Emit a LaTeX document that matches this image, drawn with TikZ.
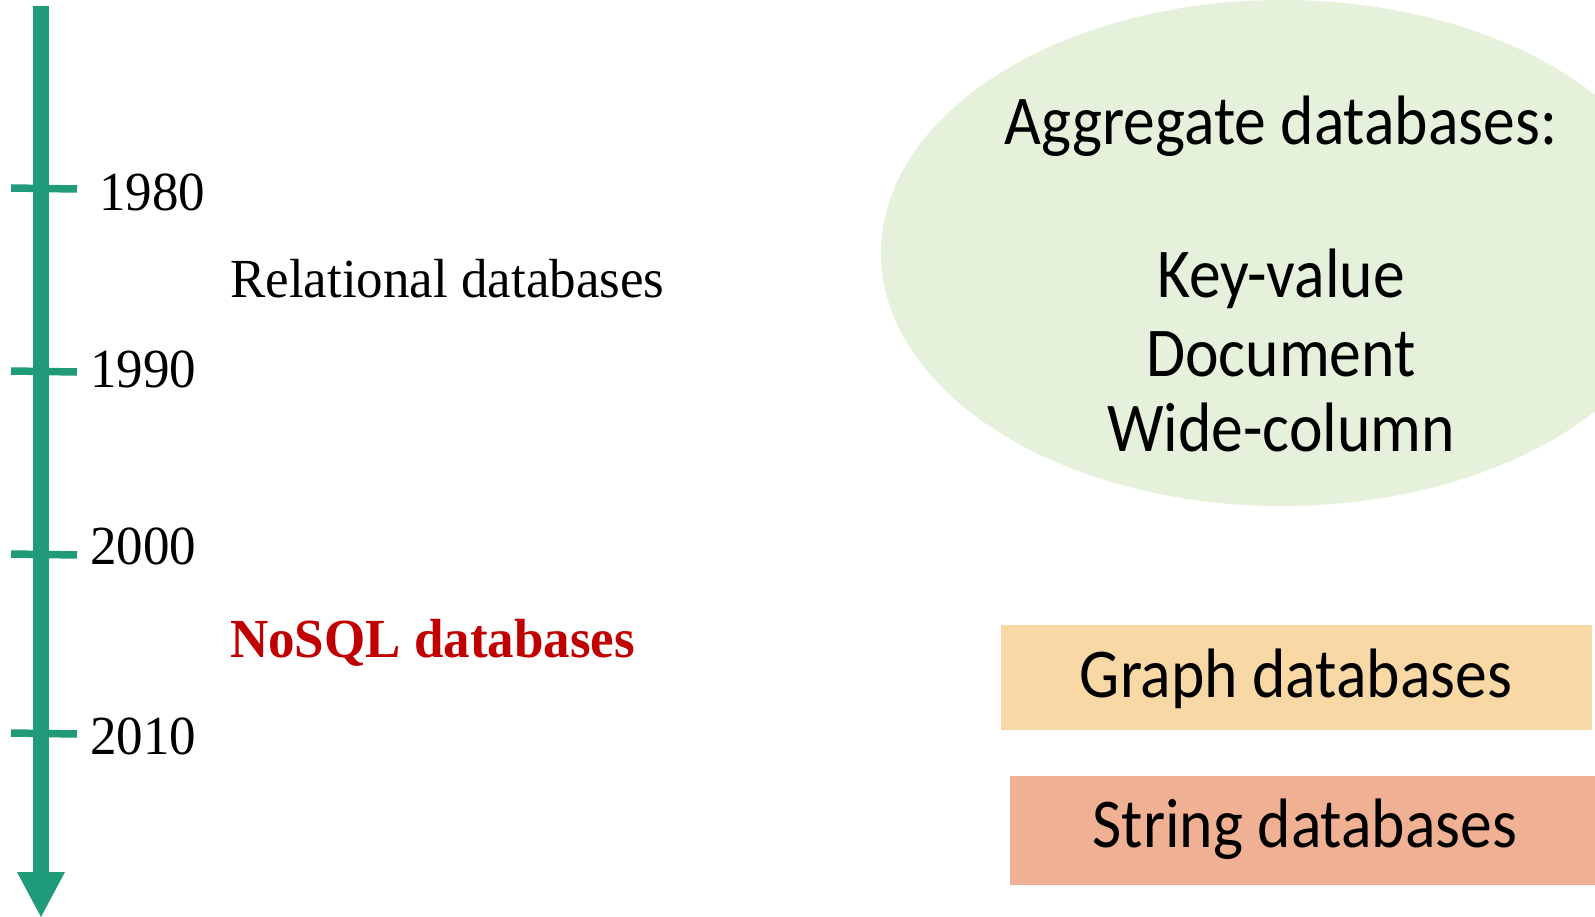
\documentclass[tikz,border=0pt]{standalone}
\usepackage{fontspec}
\usepackage{graphicx}
\setmainfont{Liberation Serif}
\newfontfamily\calibrilike{Carlito}
\definecolor{axisgreen}{HTML}{1F9B79}
\definecolor{nosqlred}{HTML}{C00000}
\definecolor{aggfill}{HTML}{E6F1DB}
\definecolor{graphfill}{HTML}{F8D8A4}
\definecolor{stringfill}{HTML}{F0B094}
% slightly tall lettering
\newcommand{\tallsans}[1]{\scalebox{1}[1.1]{#1}}
\newcommand{\tallserif}[1]{\scalebox{1}[1.04]{#1}}
\begin{document}
\begin{tikzpicture}[x=1pt,y=-1pt,
  yearlbl/.style={anchor=base west,inner sep=0pt,font=\fontsize{53}{60}\selectfont},
  eralbl/.style={anchor=base west,inner sep=0pt,font=\fontsize{53}{60}\selectfont},
  sanslbl/.style={anchor=base,inner sep=0pt,font=\calibrilike\fontsize{63.6}{76}\selectfont},
  tickmark/.style={draw=axisgreen,line width=7.5pt}]
\useasboundingbox (0,0) rectangle (1595,917);
% timeline axis
\draw[axisgreen,line width=16pt] (41,6) -- (41,873);
\fill[axisgreen] (17,872) -- (65,872) -- (41,917) -- cycle;
\foreach \ty in {188,371,554,733}
  \draw[tickmark] (11,\ty) -- (77,\ty+1);
% years
\node[yearlbl] (y1980) at (99,211) {\tallserif{1980}};
\node[yearlbl] (y1990) at (90,387) {\tallserif{1990}};
\node[yearlbl] (y2000) at (90,564) {\tallserif{2000}};
\node[yearlbl] (y2010) at (90,754) {\tallserif{2010}};
% eras
\node[eralbl] (rel) at (230,298) {\tallserif{Relational databases}};
\node[eralbl,text=nosqlred,font=\bfseries\fontsize{53}{60}\selectfont] (nosql) at (230,657) {\tallserif{NoSQL databases}};
% aggregate family
\fill[aggfill] (1282,253) ellipse [x radius=401, y radius=253];
\node[sanslbl] (agg) at (1281,145) {\tallsans{Aggregate databases:}};
\node[sanslbl] (kv) at (1281,298) {\tallsans{Key-value}};
\node[sanslbl] (doc) at (1281,376) {\tallsans{Document}};
\node[sanslbl] (wide) at (1281,451) {\tallsans{Wide-column}};
% graph and string families
\fill[graphfill] (1001,625) rectangle (1592,730);
\node[sanslbl] (graph) at (1296,697) {\tallsans{Graph databases}};
\fill[stringfill] (1010,776) rectangle (1595,885);
\node[sanslbl] (string) at (1305,847) {\tallsans{String databases}};
\end{tikzpicture}
\end{document}
